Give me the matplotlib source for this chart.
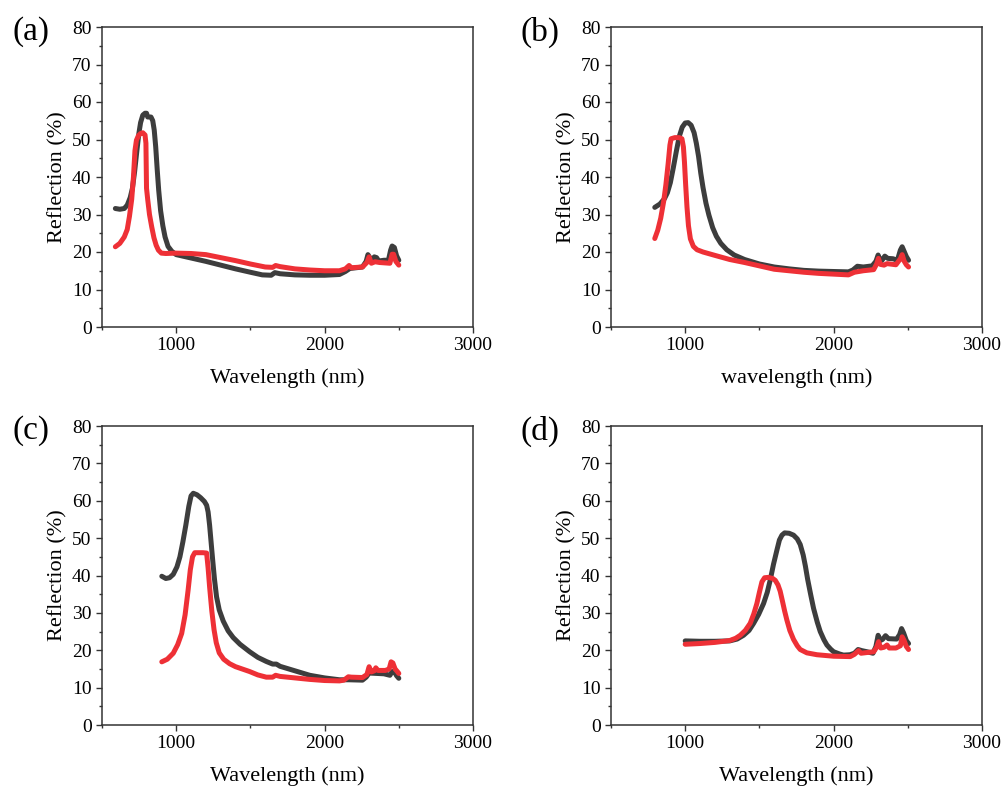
import matplotlib
matplotlib.use("Agg")
import matplotlib.pyplot as plt
from matplotlib.ticker import MultipleLocator

plt.rcParams['font.family'] = ['Liberation Serif', 'DejaVu Serif']

DARK = '#3d3d3d'
RED = '#ee3036'

# panel (a)
wl_a_dark = [590, 620, 650, 670, 690, 705, 720, 735, 748, 760, 775, 790, 800, 808, 830, 842, 852,
             862, 872, 882, 895, 910, 925, 945, 970, 1000, 1100, 1200, 1300, 1400, 1500, 1580,
             1640, 1665, 1700, 1800, 1900, 2000, 2100, 2140, 2170, 2255, 2280, 2292, 2305, 2315,
             2335, 2350, 2365, 2400, 2430, 2445, 2455, 2470, 2485, 2500]
r_a_dark = [31.6, 31.4, 31.6, 32.5, 34.5, 37, 41.5, 47, 51.5, 54.5, 56.5, 57, 57, 56, 56, 55, 52.5,
            48, 42, 36.5, 31, 27, 24, 21.5, 20.2, 19.3, 18.4, 17.5, 16.5, 15.5, 14.6, 13.9,
            13.8, 14.5, 14.2, 13.9, 13.8, 13.8, 14, 14.8, 15.6, 16, 17.5, 19.3, 18.5, 17.6,
            18.7, 18.5, 17.6, 17.8, 17.8, 20.5, 21.6, 21.2, 19, 17.8]
wl_a_red = [590, 620, 650, 670, 685, 700, 712, 722, 732, 745, 760, 775, 790, 796, 800, 808, 820,
            835, 850, 865, 880, 900, 930, 1000, 1100, 1200, 1300, 1400, 1500, 1600, 1650, 1670,
            1700, 1800, 1900, 2000, 2100, 2140, 2165, 2180, 2255, 2285, 2300, 2315, 2340, 2370,
            2440, 2455, 2465, 2480, 2500]
r_a_red = [21.4, 22.3, 24, 26, 29.5, 34, 40, 47, 49.8, 51, 51.6, 51.8, 51.2, 49, 37, 34, 30,
           26.7, 23.8, 21.8, 20.5, 19.7, 19.6, 19.7, 19.6, 19.3, 18.5, 17.7, 16.8, 16, 15.9, 16.4,
           16.1, 15.5, 15.2, 15, 15, 15.5, 16.4, 15.8, 16, 17.2, 18.7, 17, 17.4, 17.2,
           17, 19.4, 19.4, 17.5, 16.5]

# panel (b)
wl_b_dark = [795, 830, 860, 880, 900, 920, 940, 960, 980, 1000, 1020, 1040, 1060, 1075, 1090, 1105,
             1120, 1140, 1160, 1185, 1210, 1240, 1280, 1330, 1400, 1500, 1600, 1700, 1800, 1900,
             2000, 2100, 2130, 2160, 2200, 2260, 2285, 2300, 2312, 2325, 2345, 2365, 2400, 2430,
             2450, 2462, 2475, 2490, 2505]
r_b_dark = [31.9, 32.8, 34.2, 35.8, 38.5, 42.5, 46.8, 50.8, 53.3, 54.4, 54.5, 53.8, 51.8, 49, 45.5, 41,
            37.2, 33, 29.8, 26.5, 24.2, 22.3, 20.6, 19.2, 18, 16.8, 16, 15.5, 15.1, 14.9,
            14.8, 14.7, 15.2, 16.2, 16, 16.3, 17.5, 19.2, 18, 17.7, 18.9, 18.3, 18.2, 17.8,
            20.5, 21.4, 20.2, 18.8, 17.8]
wl_b_red = [795, 815, 835, 855, 870, 885, 897, 905, 930, 960, 978, 988, 995, 1003, 1012, 1022, 1035,
            1055, 1080, 1120, 1200, 1300, 1400, 1500, 1600, 1700, 1800, 1900, 2000, 2100, 2140,
            2200, 2270, 2290, 2302, 2315, 2340, 2360, 2420, 2450, 2462, 2475, 2490, 2505]
r_b_red = [23.6, 25.8, 29, 33.5, 38, 43.5, 48.5, 50.2, 50.5, 50.5, 50.2, 48, 44, 38, 32, 27, 23.5,
           21.5, 20.6, 20, 19.1, 18, 17.2, 16.3, 15.4, 15, 14.6, 14.3, 14.1, 13.9, 14.6,
           15, 15.3, 16.8, 18.3, 16.7, 16.5, 16.9, 16.6, 18.2, 19.3, 17.6, 16.6, 16]

# panel (c)
wl_c_dark = [903, 930, 955, 980, 1005, 1025, 1045, 1065, 1085, 1100, 1115, 1140, 1165, 1190, 1205,
             1215, 1225, 1235, 1245, 1258, 1272, 1290, 1317, 1350, 1384, 1430, 1495, 1550, 1607,
             1650, 1675, 1700, 1800, 1900, 2000, 2100, 2165, 2255, 2280, 2300, 2350, 2400, 2440,
             2455, 2470, 2485, 2500]
r_c_dark = [39.8, 39.2, 39.4, 40.3, 42.3, 45, 49, 53.5, 58.5, 61.3, 62, 61.6, 60.8, 59.8, 58.8,
            57, 53.5, 49, 44.5, 39, 34.3, 30.8, 27.8, 25.2, 23.4, 21.6, 19.6, 18.1, 17,
            16.3, 16.3, 15.7, 14.5, 13.3, 12.6, 12.1, 12.1, 12, 12.8, 13.9, 13.8, 13.7, 13.3,
            14.3, 14.3, 13.2, 12.5]
wl_c_red = [903, 940, 980, 1010, 1037, 1060, 1080, 1095, 1110, 1125, 1150, 1180, 1205, 1215, 1225,
            1240, 1255, 1270, 1290, 1320, 1360, 1400, 1495, 1550, 1607, 1650, 1670, 1700, 1800,
            1900, 2000, 2100, 2130, 2160, 2180, 2255, 2285, 2300, 2315, 2335, 2345, 2360, 2410,
            2435, 2448, 2460, 2475, 2490, 2500]
r_c_red = [16.9, 17.6, 19.2, 21.5, 24.5, 29.5, 36, 41.5, 45, 46.1, 46.1, 46.1, 46, 42, 37,
           30.5, 25.5, 22, 19.3, 17.6, 16.4, 15.6, 14.3, 13.4, 12.8, 12.8, 13.3, 13, 12.6,
           12.2, 11.9, 11.8, 12, 12.9, 12.8, 12.7, 13.5, 15.6, 14.2, 14.5, 15.3, 14.6, 14.6,
           15, 16.9, 16.6, 15, 14.3, 13.8]

# panel (d)
wl_d_dark = [1000, 1100, 1200, 1300, 1350, 1393, 1430, 1461, 1495, 1528, 1553, 1573, 1595, 1618,
             1635, 1652, 1670, 1700, 1730, 1755, 1775, 1795, 1810, 1825, 1845, 1865, 1890, 1910,
             1935, 1955, 1980, 2000, 2040, 2067, 2110, 2140, 2165, 2190, 2225, 2265, 2285, 2300,
             2315, 2330, 2350, 2370, 2425, 2445, 2458, 2472, 2490, 2505]
r_d_dark = [22.5, 22.4, 22.4, 22.5, 23, 24, 25.3, 27.2, 29.6, 32.5, 35.5, 38.8, 43, 46.8,
            49.5, 50.8, 51.4, 51.3, 50.8, 49.8, 48.3, 45.5, 42.5, 39, 35, 31.2, 27.5, 25,
            22.8, 21.4, 20.3, 19.6, 19, 18.7, 18.8, 19.2, 20.2, 19.9, 19.6, 19.2, 21, 24,
            22.6, 22.9, 23.9, 23.1, 23, 24.2, 25.8, 24.6, 22.6, 21.8]
wl_d_red = [1000, 1100, 1200, 1300, 1340, 1371, 1405, 1438, 1462, 1483, 1500, 1517, 1535, 1560,
            1590, 1607, 1625, 1640, 1655, 1670, 1685, 1705, 1730, 1755, 1775, 1820, 1888, 2000,
            2112, 2140, 2168, 2185, 2270, 2290, 2303, 2318, 2340, 2360, 2375, 2420, 2450, 2462,
            2475, 2490, 2505]
r_d_red = [21.6, 21.8, 22.1, 22.6, 23.2, 24, 25.3, 27.2, 29.7, 32.5, 35.5, 38.3, 39.4, 39.5,
           39.2, 38.7, 37.5, 35.8, 33.2, 30.5, 28.1, 25.3, 22.9, 21.2, 20.2, 19.3, 18.8, 18.4,
           18.3, 18.9, 19.9, 19.2, 19.6, 20.8, 22.3, 20.6, 20.8, 21.4, 20.6, 20.6, 21.2, 23.6,
           22.6, 21, 20.2]

panels = [
    ('(a)', 'Wavelength (nm)', wl_a_dark, r_a_dark, wl_a_red, r_a_red),
    ('(b)', 'wavelength (nm)', wl_b_dark, r_b_dark, wl_b_red, r_b_red),
    ('(c)', 'Wavelength (nm)', wl_c_dark, r_c_dark, wl_c_red, r_c_red),
    ('(d)', 'Wavelength (nm)', wl_d_dark, r_d_dark, wl_d_red, r_d_red),
]

W, H = 1003, 789
fig = plt.figure(figsize=(W / 100, H / 100), dpi=100)

# axes boxes in pixels: left, top, right, bottom
boxes = [(102, 27, 473, 327), (611, 27, 982, 327), (102, 426, 473, 725), (611, 426, 982, 725)]

for (tag, xlab, xd, yd, xr, yr), (l, t, r, b) in zip(panels, boxes):
    ax = fig.add_axes([l / W, 1 - b / H, (r - l) / W, (b - t) / H])
    ax.plot(xd, yd, color=DARK, lw=3.6, solid_capstyle='round', solid_joinstyle='round')
    ax.plot(xr, yr, color=RED, lw=3.6, solid_capstyle='round', solid_joinstyle='round')
    ax.set_xlim(500, 3000)
    ax.set_ylim(0, 80)
    ax.xaxis.set_major_locator(MultipleLocator(1000))
    ax.xaxis.set_minor_locator(MultipleLocator(500))
    ax.yaxis.set_major_locator(MultipleLocator(10))
    ax.yaxis.set_minor_locator(MultipleLocator(5))
    ax.tick_params(which='both', direction='out', top=False, right=False,
                   labelsize=14, color='#333333', pad=3)
    ax.tick_params(which='major', length=4.5, width=1)
    ax.tick_params(which='minor', length=2.5, width=1)
    for sp in ax.spines.values():
        sp.set_linewidth(1.1)
        sp.set_color('#333333')
    ax.set_xlabel(xlab, fontsize=16, va='center')
    ax.xaxis.set_label_coords(0.5, -51 / (b - t))
    ax.set_ylabel('Reflection (%)', fontsize=16, va='center')
    ax.yaxis.set_label_coords(-44 / (r - l), 0.5)
    fig.text((l - 90) / W, 1 - (t + 5) / H, tag, fontsize=24, va='center', ha='left')

fig.savefig('out.png', dpi=100)
